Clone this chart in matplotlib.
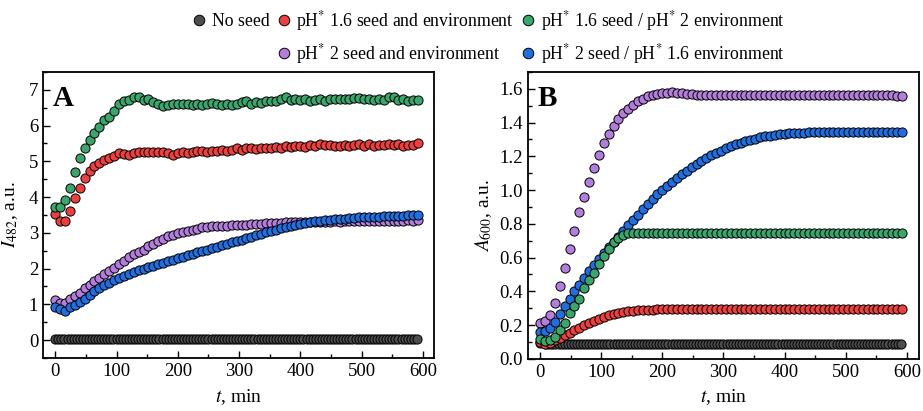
import numpy as np
import matplotlib
matplotlib.use('Agg')
import matplotlib.pyplot as plt
from matplotlib.ticker import MultipleLocator

plt.rcParams['font.family'] = ['Liberation Serif', 'DejaVu Serif']
plt.rcParams['mathtext.fontset'] = 'stix'

# time grids (min)
t_ctrl = np.arange(0, 595, 5)      # no-seed runs, every 5 min
t_seed = np.arange(0, 593, 8)      # seeded runs, every 8 min

labels = ['No seed',
          'pH$^{*}$ 1.6 seed and environment',
          'pH$^{*}$ 1.6 seed / pH$^{*}$ 2 environment',
          'pH$^{*}$ 2 seed and environment',
          'pH$^{*}$ 2 seed / pH$^{*}$ 1.6 environment']
colors = ['#4d4d4d', '#ec4040', '#3aa66b', '#b27ddb', '#1f6fe0']

# ---- panel A: I482 ----
noseed_I = [0.03, 0.03, 0.03, 0.02, 0.03, 0.03, 0.02, 0.03, 0.03, 0.03,
            0.03, 0.02, 0.03, 0.03, 0.03, 0.02, 0.03, 0.03, 0.03, 0.03,
            0.02, 0.03, 0.03, 0.03, 0.03, 0.02, 0.03, 0.03, 0.03, 0.03,
            0.03, 0.03, 0.02, 0.03, 0.03, 0.03, 0.03, 0.02, 0.03, 0.03,
            0.03, 0.03, 0.03, 0.02, 0.03, 0.03, 0.03, 0.03, 0.02, 0.03,
            0.03, 0.03, 0.03, 0.03, 0.02, 0.03, 0.03, 0.03, 0.03, 0.02,
            0.03, 0.03, 0.03, 0.03, 0.03, 0.02, 0.03, 0.03, 0.03, 0.03,
            0.02, 0.03, 0.03, 0.03, 0.03, 0.03, 0.02, 0.03, 0.03, 0.03,
            0.03, 0.02, 0.03, 0.03, 0.03, 0.03, 0.03, 0.02, 0.03, 0.03,
            0.03, 0.03, 0.02, 0.03, 0.03, 0.03, 0.03, 0.03, 0.02, 0.03,
            0.03, 0.03, 0.03, 0.02, 0.03, 0.03, 0.03, 0.03, 0.03, 0.02,
            0.03, 0.03, 0.03, 0.03, 0.02, 0.03, 0.03, 0.03, 0.03]
red_I = [3.54, 3.33, 3.33, 3.60, 3.98, 4.25, 4.53, 4.72, 4.86, 4.95,
         5.03, 5.08, 5.15, 5.22, 5.20, 5.18, 5.22, 5.25, 5.27, 5.26,
         5.27, 5.25, 5.26, 5.24, 5.18, 5.23, 5.25, 5.24, 5.27, 5.28,
         5.29, 5.27, 5.30, 5.28, 5.31, 5.29, 5.32, 5.36, 5.32, 5.36,
         5.37, 5.35, 5.38, 5.37, 5.38, 5.40, 5.38, 5.42, 5.40, 5.42,
         5.44, 5.40, 5.45, 5.42, 5.48, 5.45, 5.46, 5.42, 5.44, 5.45,
         5.43, 5.46, 5.48, 5.44, 5.48, 5.42, 5.46, 5.47, 5.48, 5.45,
         5.48, 5.44, 5.46, 5.47, 5.50]
green_I = [3.72, 3.72, 3.93, 4.25, 4.70, 5.08, 5.36, 5.60, 5.78, 5.95,
           6.15, 6.25, 6.42, 6.60, 6.69, 6.72, 6.80, 6.80, 6.72, 6.75,
           6.66, 6.60, 6.54, 6.58, 6.59, 6.61, 6.59, 6.61, 6.57, 6.60,
           6.58, 6.61, 6.64, 6.61, 6.58, 6.61, 6.58, 6.61, 6.66, 6.69,
           6.61, 6.66, 6.64, 6.68, 6.70, 6.70, 6.74, 6.81, 6.72, 6.75,
           6.72, 6.73, 6.70, 6.72, 6.75, 6.70, 6.73, 6.75, 6.73, 6.75,
           6.75, 6.76, 6.78, 6.75, 6.73, 6.72, 6.75, 6.72, 6.80, 6.81,
           6.72, 6.75, 6.70, 6.72, 6.72]
purple_I = [1.12, 1.03, 1.05, 1.14, 1.23, 1.33, 1.45, 1.55, 1.65, 1.75,
            1.84, 1.93, 2.02, 2.13, 2.22, 2.32, 2.40, 2.47, 2.53, 2.62,
            2.70, 2.78, 2.84, 2.90, 2.95, 3.00, 3.03, 3.06, 3.09, 3.12,
            3.15, 3.16, 3.18, 3.19, 3.20, 3.20, 3.21, 3.22, 3.23, 3.23,
            3.24, 3.25, 3.26, 3.27, 3.27, 3.28, 3.28, 3.29, 3.29, 3.30,
            3.30, 3.30, 3.31, 3.30, 3.31, 3.31, 3.31, 3.32, 3.31, 3.32,
            3.32, 3.32, 3.33, 3.32, 3.33, 3.33, 3.34, 3.33, 3.34, 3.34,
            3.33, 3.34, 3.35, 3.34, 3.35]
blue_I = [0.92, 0.86, 0.82, 0.92, 0.98, 1.07, 1.16, 1.26, 1.36, 1.45,
          1.53, 1.60, 1.67, 1.73, 1.79, 1.85, 1.90, 1.95, 1.99, 2.04,
          2.08, 2.13, 2.17, 2.21, 2.25, 2.29, 2.33, 2.37, 2.41, 2.45,
          2.49, 2.53, 2.57, 2.61, 2.65, 2.69, 2.73, 2.77, 2.81, 2.85,
          2.89, 2.93, 2.97, 3.01, 3.05, 3.09, 3.13, 3.17, 3.20, 3.23,
          3.26, 3.28, 3.30, 3.32, 3.34, 3.35, 3.37, 3.38, 3.39, 3.40,
          3.41, 3.42, 3.43, 3.43, 3.44, 3.45, 3.45, 3.46, 3.46, 3.47,
          3.47, 3.48, 3.49, 3.49, 3.50]

# ---- panel B: A600 ----
noseed_A = [0.095, 0.092, 0.090, 0.089, 0.088, 0.088, 0.088, 0.088, 0.088, 0.088,
            0.088, 0.088, 0.088, 0.088, 0.088, 0.088, 0.088, 0.088, 0.088, 0.088,
            0.088, 0.088, 0.088, 0.088, 0.088, 0.088, 0.088, 0.088, 0.088, 0.088,
            0.088, 0.088, 0.088, 0.088, 0.088, 0.088, 0.088, 0.088, 0.088, 0.088,
            0.088, 0.088, 0.088, 0.088, 0.088, 0.088, 0.088, 0.088, 0.088, 0.088,
            0.088, 0.088, 0.088, 0.088, 0.088, 0.088, 0.088, 0.088, 0.088, 0.088,
            0.088, 0.088, 0.088, 0.088, 0.088, 0.088, 0.088, 0.088, 0.088, 0.088,
            0.088, 0.088, 0.088, 0.088, 0.088, 0.088, 0.088, 0.088, 0.088, 0.088,
            0.088, 0.088, 0.088, 0.088, 0.088, 0.088, 0.088, 0.088, 0.088, 0.088,
            0.088, 0.088, 0.088, 0.088, 0.088, 0.088, 0.088, 0.088, 0.088, 0.088,
            0.088, 0.088, 0.088, 0.088, 0.088, 0.088, 0.088, 0.088, 0.088, 0.088,
            0.088, 0.088, 0.088, 0.088, 0.088, 0.088, 0.088, 0.088, 0.088]
red_A = [0.100, 0.090, 0.095, 0.110, 0.125, 0.140, 0.155, 0.170, 0.185, 0.200,
         0.213, 0.225, 0.237, 0.248, 0.258, 0.266, 0.273, 0.278, 0.283, 0.286,
         0.288, 0.290, 0.291, 0.292, 0.293, 0.293, 0.293, 0.294, 0.294, 0.294,
         0.294, 0.294, 0.294, 0.294, 0.295, 0.295, 0.295, 0.295, 0.295, 0.295,
         0.295, 0.295, 0.295, 0.295, 0.295, 0.296, 0.296, 0.296, 0.296, 0.296,
         0.296, 0.296, 0.296, 0.296, 0.296, 0.296, 0.296, 0.296, 0.297, 0.297,
         0.297, 0.297, 0.297, 0.297, 0.297, 0.297, 0.297, 0.297, 0.297, 0.297,
         0.297, 0.297, 0.297, 0.297, 0.297]
green_A = [0.117, 0.103, 0.112, 0.130, 0.170, 0.215, 0.270, 0.310, 0.355, 0.420,
           0.465, 0.510, 0.560, 0.610, 0.650, 0.690, 0.715, 0.735, 0.743, 0.745,
           0.745, 0.745, 0.745, 0.745, 0.745, 0.745, 0.745, 0.745, 0.745, 0.745,
           0.745, 0.745, 0.745, 0.745, 0.745, 0.745, 0.745, 0.745, 0.745, 0.745,
           0.745, 0.745, 0.745, 0.745, 0.745, 0.745, 0.745, 0.745, 0.745, 0.745,
           0.745, 0.745, 0.745, 0.745, 0.745, 0.745, 0.745, 0.745, 0.745, 0.745,
           0.745, 0.745, 0.745, 0.745, 0.745, 0.745, 0.745, 0.745, 0.745, 0.745,
           0.745, 0.745, 0.745, 0.745, 0.745]
purple_A = [0.210, 0.225, 0.260, 0.330, 0.430, 0.540, 0.650, 0.760, 0.870, 0.960,
            1.050, 1.130, 1.210, 1.280, 1.330, 1.380, 1.420, 1.455, 1.480, 1.505,
            1.525, 1.540, 1.555, 1.565, 1.570, 1.575, 1.578, 1.580, 1.578, 1.574,
            1.570, 1.568, 1.566, 1.566, 1.566, 1.566, 1.566, 1.566, 1.566, 1.566,
            1.566, 1.566, 1.566, 1.566, 1.566, 1.566, 1.566, 1.565, 1.565, 1.565,
            1.565, 1.565, 1.565, 1.565, 1.565, 1.565, 1.565, 1.565, 1.565, 1.565,
            1.564, 1.564, 1.564, 1.564, 1.564, 1.564, 1.564, 1.563, 1.563, 1.563,
            1.562, 1.562, 1.561, 1.560, 1.560]
blue_A = [0.160, 0.165, 0.180, 0.220, 0.265, 0.310, 0.355, 0.400, 0.440, 0.480,
          0.520, 0.555, 0.590, 0.625, 0.660, 0.690, 0.720, 0.755, 0.790, 0.822,
          0.855, 0.888, 0.918, 0.947, 0.975, 1.000, 1.025, 1.050, 1.073, 1.095,
          1.115, 1.135, 1.155, 1.172, 1.190, 1.205, 1.220, 1.234, 1.247, 1.259,
          1.270, 1.280, 1.289, 1.297, 1.305, 1.312, 1.318, 1.323, 1.327, 1.331,
          1.334, 1.336, 1.338, 1.340, 1.341, 1.342, 1.343, 1.343, 1.344, 1.344,
          1.344, 1.345, 1.345, 1.345, 1.345, 1.345, 1.345, 1.345, 1.345, 1.345,
          1.345, 1.345, 1.345, 1.345, 1.345]

fig = plt.figure(figsize=(9.23, 4.11), dpi=100)
axA = fig.add_axes([0.0466, 0.129, 0.4236, 0.696])
axB = fig.add_axes([0.572, 0.127, 0.4237, 0.698])

mk = dict(linestyle='none', marker='o', markersize=6.6, markeredgecolor='black',
          markeredgewidth=0.7)

panels = [
    (axA, [noseed_I, red_I, purple_I, blue_I, green_I]),
    (axB, [noseed_A, red_A, purple_A, blue_A, green_A]),
]
order = [0, 1, 3, 4, 2]
handles = None
for ax, series in panels:
    hs = {}
    for y, ci in zip(series, order):
        t = t_ctrl if ci == 0 else t_seed
        h, = ax.plot(t, y, color=colors[ci], label=labels[ci], **mk)
        hs[ci] = h
    handles = hs

axA.set_xlim(-20, 618)
axA.set_ylim(-0.5, 7.5)
axA.yaxis.set_major_locator(MultipleLocator(1))
axA.yaxis.set_minor_locator(MultipleLocator(0.5))
axA.set_ylabel('$I_{482}$, a.u.', fontsize=14, labelpad=6)
axA.text(0.025, 0.955, 'A', transform=axA.transAxes, fontsize=21,
         fontweight='bold', va='top', ha='left')

axB.set_xlim(-20, 620)
axB.set_ylim(0, 1.7)
axB.yaxis.set_major_locator(MultipleLocator(0.2))
axB.yaxis.set_minor_locator(MultipleLocator(0.1))
axB.yaxis.set_major_formatter(matplotlib.ticker.FormatStrFormatter('%.1f'))
axB.set_ylabel('$A_{600}$, a.u.', fontsize=14, labelpad=4)
axB.text(0.025, 0.955, 'B', transform=axB.transAxes, fontsize=21,
         fontweight='bold', va='top', ha='left')

for ax in (axA, axB):
    ax.xaxis.set_major_locator(MultipleLocator(100))
    ax.xaxis.set_minor_locator(MultipleLocator(50))
    ax.set_xlabel('$t$, min', fontsize=14, labelpad=5)
    ax.tick_params(which='both', direction='in', top=False, right=False,
                   labelsize=13.5, width=1.0)
    ax.tick_params(which='major', length=5)
    ax.tick_params(which='minor', length=3)
    for s in ax.spines.values():
        s.set_linewidth(1.3)

blank = plt.Line2D([], [], linestyle='none', marker='')
leg_handles = [handles[0], blank, handles[1], handles[3], handles[2], handles[4]]
leg_labels = [labels[0], ' ', labels[1], labels[3], labels[2], labels[4]]
fig.legend(leg_handles, leg_labels, loc='upper center', bbox_to_anchor=(0.528, 1.0),
           ncol=3, frameon=False, fontsize=12.8, handletextpad=0.2,
           columnspacing=0.3, labelspacing=0.5, handlelength=1.0,
           markerscale=1.15, borderaxespad=0.1, borderpad=0.4)

fig.savefig('out.png', dpi=100)
